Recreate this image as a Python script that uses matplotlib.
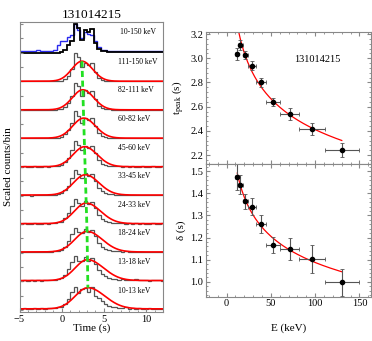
import numpy as np
import matplotlib
matplotlib.use("Agg")
import matplotlib.pyplot as plt
from matplotlib.ticker import MultipleLocator, NullFormatter

plt.rcParams['font.family'] = ['Liberation Serif', 'DejaVu Serif']
plt.rcParams['mathtext.fontset'] = 'stix'

# ---------------- data ----------------
burst = "131014215"
t0, bw = -5.0, 0.4  # light-curve bin start / width (s)

top_label = "10-150 keV"
lc_top_black = [0.0, 0.0, 0.0, 0.0, 0.0, 0.0, 0.0, 0.0, 0.0, 0.0, 0.0, 0.0,
                0.02, 0.10, 0.28, 0.40, 1.00, 0.85, 0.45, 0.78, 0.72, 0.82, 0.35, 0.12, 0.06, 0.04, 0.03, 0.03,
                0.02, 0.03, 0.02, 0.02, 0.02, 0.02, 0.02, 0.02, 0.02, 0.02, 0.02, 0.02, 0.02, 0.02, 0.02]
lc_top_blue = [0.05, 0.07, 0.04, 0.06, 0.05, 0.08, 0.06, 0.05, 0.07, 0.06, 0.08, 0.25,
               0.42, 0.40, 0.55, 0.62, 1.00, 0.80, 0.50, 0.72, 0.65, 0.62, 0.40, 0.20, 0.10, 0.08, 0.07, 0.06,
               0.05, 0.07, 0.05, 0.06, 0.04, 0.06, 0.05, 0.07, 0.05, 0.04, 0.06, 0.05, 0.07, 0.05, 0.06]

bands = ["111-150 keV", "82-111 keV", "60-82 keV", "45-60 keV", "33-45 keV",
         "24-33 keV", "18-24 keV", "13-18 keV", "10-13 keV"]

lc_111_150 = [0.0]*12 + [0.01, 0.06, 0.18, 0.42, 0.98, 0.86, 0.48, 0.62, 0.55, 0.64, 0.32, 0.10, 0.03, 0.01, 0.0, 0.0] + [0.0]*15
lc_82_111 = [0.0, 0.01, 0.0, 0.0, 0.01, 0.0, 0.0, 0.01, 0.0, 0.0, 0.01, 0.02,
             0.04, 0.10, 0.25, 0.50, 0.95, 0.82, 0.50, 0.68, 0.60, 0.66, 0.38, 0.15, 0.06, 0.03, 0.02, 0.01,
             0.01, 0.0, 0.01, 0.0, 0.0, 0.01, 0.0, 0.0, 0.01, 0.0, 0.0, 0.0, 0.01, 0.0, 0.0]
lc_60_82 = [0.01, 0.0, 0.01, 0.02, 0.0, 0.01, 0.01, 0.0, 0.02, 0.01, 0.02, 0.03,
            0.06, 0.14, 0.30, 0.55, 0.95, 0.80, 0.55, 0.72, 0.64, 0.70, 0.45, 0.20, 0.10, 0.05, 0.03, 0.02,
            0.02, 0.01, 0.01, 0.02, 0.0, 0.01, 0.01, 0.02, 0.0, 0.01, 0.01, 0.0, 0.01, 0.01, 0.0]
lc_45_60 = [0.01, 0.02, 0.0, 0.01, 0.02, 0.01, 0.0, 0.02, 0.01, 0.02, 0.02, 0.04,
            0.07, 0.16, 0.32, 0.58, 0.92, 0.78, 0.58, 0.75, 0.66, 0.72, 0.48, 0.24, 0.12, 0.07, 0.04, 0.03,
            0.02, 0.02, 0.01, 0.02, 0.01, 0.02, 0.0, 0.01, 0.02, 0.01, 0.01, 0.02, 0.0, 0.01, 0.02]
lc_33_45 = [0.02, 0.01, 0.02, 0.0, 0.02, 0.01, 0.02, 0.01, 0.03, 0.01, 0.03, 0.05,
            0.08, 0.18, 0.35, 0.60, 0.90, 0.76, 0.62, 0.78, 0.68, 0.75, 0.52, 0.28, 0.15, 0.09, 0.05, 0.04,
            0.03, 0.02, 0.03, 0.01, 0.02, 0.02, 0.01, 0.03, 0.01, 0.02, 0.01, 0.02, 0.01, 0.02, 0.01]
lc_24_33 = [0.02, 0.03, 0.01, 0.02, 0.03, 0.01, 0.02, 0.03, 0.02, 0.03, 0.04, 0.06,
            0.09, 0.20, 0.38, 0.62, 0.88, 0.75, 0.64, 0.80, 0.70, 0.78, 0.55, 0.32, 0.18, 0.11, 0.07, 0.05,
            0.04, 0.03, 0.04, 0.02, 0.03, 0.02, 0.03, 0.01, 0.03, 0.02, 0.02, 0.03, 0.01, 0.02, 0.03]
lc_18_24 = [0.03, 0.02, 0.04, 0.02, 0.03, 0.04, 0.02, 0.03, 0.04, 0.03, 0.05, 0.07,
            0.10, 0.22, 0.40, 0.65, 0.86, 0.72, 0.68, 0.82, 0.72, 0.80, 0.58, 0.36, 0.22, 0.14, 0.09, 0.07,
            0.06, 0.05, 0.04, 0.05, 0.03, 0.04, 0.03, 0.04, 0.02, 0.03, 0.04, 0.02, 0.03, 0.03, 0.02]
lc_13_18 = [0.03, 0.05, 0.02, 0.04, 0.03, 0.05, 0.03, 0.04, 0.06, 0.04, 0.06, 0.08,
            0.12, 0.24, 0.42, 0.68, 0.88, 0.70, 0.72, 0.85, 0.70, 0.82, 0.60, 0.40, 0.26, 0.18, 0.12, 0.09,
            0.08, 0.06, 0.07, 0.05, 0.06, 0.04, 0.07, 0.05, 0.04, 0.06, 0.03, 0.05, 0.04, 0.05, 0.03]
lc_10_13 = [0.04, 0.06, 0.03, 0.05, 0.07, 0.04, 0.06, 0.05, 0.08, 0.06, 0.07, 0.09,
            0.12, 0.22, 0.38, 0.62, 0.82, 0.60, 0.72, 0.78, 0.62, 0.80, 0.50, 0.42, 0.30, 0.22, 0.15, 0.12,
            0.10, 0.08, 0.07, 0.09, 0.05, 0.06, 0.04, 0.07, 0.05, 0.03, 0.06, 0.04, 0.05, 0.03, 0.04]
band_lcs = [lc_111_150, lc_82_111, lc_60_82, lc_45_60, lc_33_45,
            lc_24_33, lc_18_24, lc_13_18, lc_10_13]

# pulse-fit parameters per band (centre, sigma_left, sigma_right, amplitude, background)
fit_center = [2.40, 2.50, 2.60, 2.70, 2.80, 2.90, 3.00, 3.05, 3.10]
fit_sig_l = [1.20, 1.25, 1.30, 1.35, 1.40, 1.40, 1.45, 1.45, 1.50]
fit_sig_r = [1.25, 1.30, 1.40, 1.50, 1.60, 1.70, 1.80, 1.90, 2.00]
fit_amp = [0.70, 0.70, 0.70, 0.70, 0.71, 0.72, 0.72, 0.73, 0.74]
fit_bkg = [0.00, 0.00, 0.01, 0.01, 0.02, 0.02, 0.03, 0.03, 0.04]

# right panels
E = [11.5, 15.5, 21.0, 28.5, 39.0, 52.5, 71.0, 96.5, 130.5]
E_err = [1.5, 2.5, 3.0, 4.5, 6.0, 7.5, 11.0, 14.5, 19.5]
tpeak = [3.033, 3.11, 3.028, 2.94, 2.80, 2.64, 2.536, 2.415, 2.24]
tpeak_err = [0.05, 0.04, 0.035, 0.035, 0.037, 0.035, 0.05, 0.052, 0.058]
delta = [1.474, 1.44, 1.364, 1.34, 1.262, 1.167, 1.148, 1.103, 0.998]
delta_err = [0.057, 0.045, 0.035, 0.038, 0.042, 0.038, 0.05, 0.064, 0.06]
tpeak_fit = (4.70, 0.145)   # A * E^-alpha
delta_fit = (2.16, 0.149)

# ---------------- figure ----------------
fig = plt.figure(figsize=(3.72, 3.41), dpi=100)
W, H = 372, 341

def box(x0, y0, x1, y1):
    return [x0 / W, 1 - y1 / H, (x1 - x0) / W, (y1 - y0) / H]

framec = '#888888'
ax = fig.add_axes(box(19.5, 22, 163, 312))
base0 = 0.07
edges = t0 + bw * np.arange(len(lc_top_black) + 1)

def steps(vals, base, **kw):
    v = np.asarray(vals) + base
    ax.stairs(v, edges, baseline=None, **kw)

tgrid = np.linspace(-5, 12, 600)
peak_x, peak_y = [], []
for i, (lab, lc) in enumerate(zip(bands, band_lcs)):
    base = base0 + (len(bands) - 1 - i)
    steps(lc, base, color='#555555', lw=0.9)
    c, sl, sr, a, b = fit_center[i], fit_sig_l[i], fit_sig_r[i], fit_amp[i], fit_bkg[i]
    sig = np.where(tgrid < c, sl, sr)
    model = b + a * np.exp(-0.5 * ((tgrid - c) / sig) ** 2)
    ax.plot(tgrid, base + model, color='red', lw=1.2)
    peak_x.append(c)
    peak_y.append(base + a + b)
    ax.text(6.7, base + 0.68, lab, fontsize=5.5, va='center', ha='left')

topbase = base0 + len(bands)
steps(lc_top_blue, topbase, color='#2a2aee', lw=1.0)
steps(lc_top_black, topbase, color='black', lw=1.3)
ax.text(6.9, topbase + 0.72, top_label, fontsize=5.5, va='center', ha='left')

ax.plot(peak_x, peak_y, color='#22e022', lw=2.0, dashes=(2.2, 1.3))

ax.set_xlim(-5, 12)
ax.set_ylim(0, 10.14)
ax.set_xticks([-5, 0, 5, 10])
ax.xaxis.set_minor_locator(MultipleLocator(1))
ax.set_yticks(base0 + 0.5 * np.arange(0, 21))
ax.yaxis.set_major_formatter(NullFormatter())
ax.tick_params(axis='both', which='both', direction='in', color=framec, labelsize=7.5, pad=2)
ax.tick_params(axis='y', length=2.5)
ax.tick_params(axis='x', which='major', length=3)
ax.tick_params(axis='x', which='minor', length=1.5)
for s in ax.spines.values():
    s.set_color(framec)
    s.set_linewidth(0.8)
ax.set_xlabel("Time (s)", fontsize=8, labelpad=0)
ax.set_ylabel("Scaled counts/bin", fontsize=8, labelpad=3)
ax.set_title(burst, fontsize=9.5, pad=3)

# right panels
ax1 = fig.add_axes(box(206, 31.7, 371, 163.5))
ax2 = fig.add_axes(box(206, 163.5, 371, 296.7))
Egrid_t = np.linspace(10, 130, 200)
Egrid_d = np.linspace(12, 130, 200)
ax1.plot(Egrid_t, tpeak_fit[0] * Egrid_t ** (-tpeak_fit[1]), color='red', lw=0.9)
ax2.plot(Egrid_d, delta_fit[0] * Egrid_d ** (-delta_fit[1]), color='red', lw=0.9)
for a_, y, ye in ((ax1, tpeak, tpeak_err), (ax2, delta, delta_err)):
    a_.errorbar(E, y, xerr=E_err, yerr=ye, fmt='o', color='black', ms=3.0,
                ecolor='#555555', elinewidth=0.8, capsize=1.2, capthick=0.6)
    a_.set_xlim(-23.3, 163)
    a_.xaxis.set_major_locator(MultipleLocator(50))
    a_.xaxis.set_minor_locator(MultipleLocator(10))
    a_.tick_params(axis='both', which='both', direction='in', color=framec,
                   top=True, right=True, labelsize=7.5, pad=2)
    a_.tick_params(which='major', length=3)
    a_.tick_params(which='minor', length=1.5)
    for s in a_.spines.values():
        s.set_color(framec)
        s.set_linewidth(0.8)

ax1.set_ylim(2.13, 3.22)
ax1.yaxis.set_major_locator(MultipleLocator(0.2))
ax1.yaxis.set_minor_locator(MultipleLocator(0.04))
ax1.yaxis.set_major_formatter(matplotlib.ticker.FormatStrFormatter('%.1f'))
ax1.xaxis.set_major_formatter(NullFormatter())
ax1.set_ylabel(r"t$_{\rm peak}$ (s)", fontsize=8, labelpad=3)
ax1.text(102, 2.99, burst, fontsize=7.5, ha='center', va='center')

ax2.set_ylim(0.933, 1.535)
ax2.yaxis.set_major_locator(MultipleLocator(0.1))
ax2.yaxis.set_minor_locator(MultipleLocator(0.02))
ax2.yaxis.set_major_formatter(matplotlib.ticker.FormatStrFormatter('%.1f'))
ax2.set_ylabel("δ (s)", fontsize=8, labelpad=3)
ax2.set_xlabel("E (keV)", fontsize=8, labelpad=11)

fig.savefig("out.png", dpi=100)
